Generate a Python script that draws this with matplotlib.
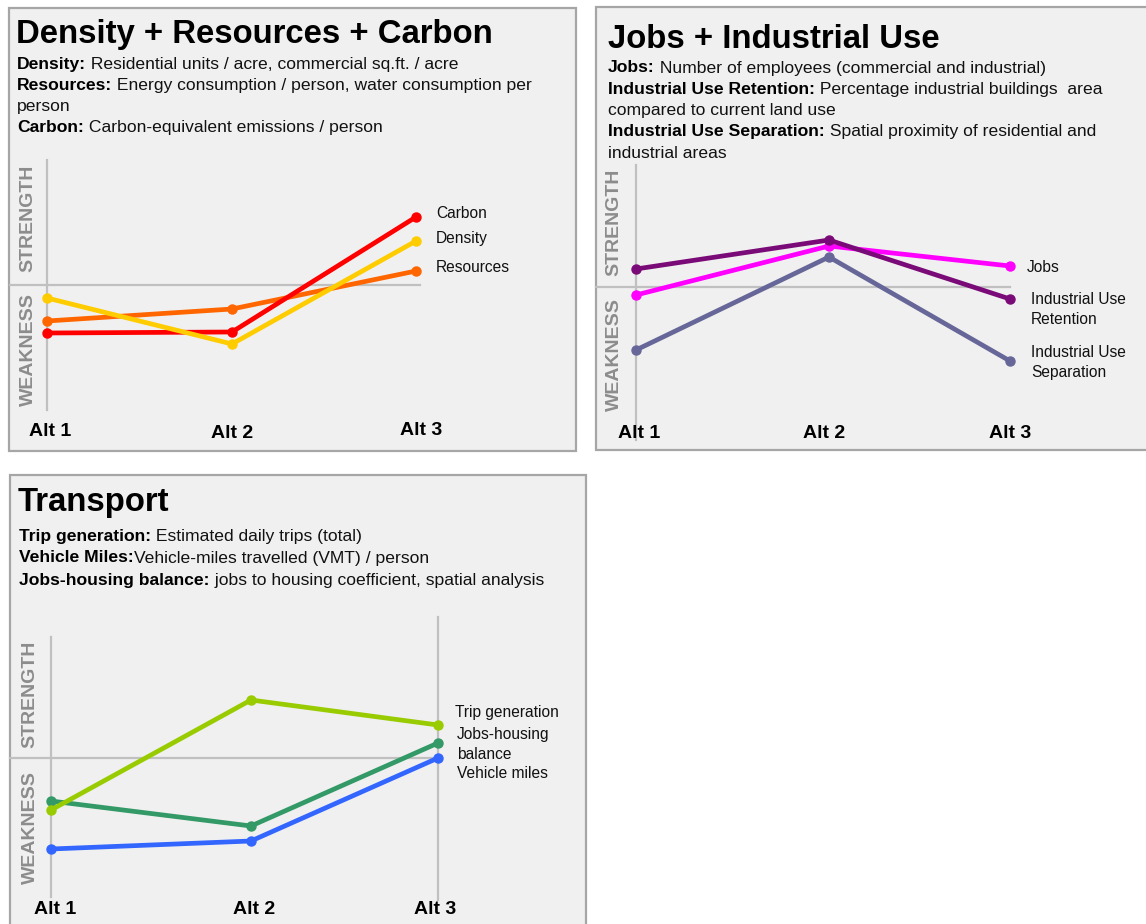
import matplotlib
matplotlib.use("Agg")
import matplotlib.pyplot as plt
from matplotlib.patches import Rectangle

plt.rcParams['font.family'] = ['Liberation Sans', 'DejaVu Sans']

# ---------------- data ----------------
alts = ["Alt 1", "Alt 2", "Alt 3"]

p1_title = "Density + Resources + Carbon"
p1_desc = [("Density:", " Residential units / acre, commercial sq.ft. / acre"),
           ("Resources:", " Energy consumption / person, water consumption per"),
           ("", "person"),
           ("Carbon:", " Carbon-equivalent emissions / person")]
p1_names = ["Resources", "Carbon", "Density"]
p1_values = [[-0.36, -0.24, 0.14],
             [-0.48, -0.47, 0.68],
             [-0.13, -0.59, 0.44]]
p1_colors = ["#ff6600", "#ff0000", "#ffcc00"]

p2_title = "Jobs + Industrial Use"
p2_desc = [("Jobs:", " Number of employees (commercial and industrial)"),
           ("Industrial Use Retention:", " Percentage industrial buildings  area"),
           ("", "compared to current land use"),
           ("Industrial Use Separation:", " Spatial proximity of residential and"),
           ("", "industrial areas")]
p2_names = ["Industrial Use\nSeparation", "Jobs", "Industrial Use\nRetention"]
p2_values = [[-0.63, 0.30, -0.74],
             [-0.08, 0.41, 0.21],
             [0.18, 0.47, -0.12]]
p2_colors = ["#666699", "#ff00ff", "#7a0a78"]

p3_title = "Transport"
p3_desc = [("Trip generation:", " Estimated daily trips (total)"),
           ("Vehicle Miles:", "Vehicle-miles travelled (VMT) / person"),
           ("Jobs-housing balance:", " jobs to housing coefficient, spatial analysis")]
p3_names = ["Vehicle miles", "Jobs-housing\nbalance", "Trip generation"]
p3_values = [[-0.91, -0.83, 0.00],
             [-0.43, -0.68, 0.15],
             [-0.52, 0.58, 0.33]]
p3_colors = ["#3366ff", "#339966", "#99cc00"]

# ---------------- layout helpers ----------------
W, H = 1146, 924
fig = plt.figure(figsize=(W / 100, H / 100), dpi=100)
fig.patch.set_facecolor("white")
renderer = fig.canvas.get_renderer()

def fx(x):
    return x / W

def fy(y):
    return 1 - y / H

def panel_box(x0, y0, x1, y1):
    fig.patches.append(Rectangle((fx(x0), fy(y1)), fx(x1) - fx(x0), fy(y0) - fy(y1),
                                 transform=fig.transFigure, facecolor="#f0f0f0",
                                 edgecolor="#a6a6a6", linewidth=1.6, zorder=-5))

def rich_lines(x, y, lines, size=12.6, step=21.3):
    for i, (b, r) in enumerate(lines):
        yy = fy(y + i * step)
        xx = fx(x)
        if b:
            t = fig.text(xx, yy, b, fontsize=size, fontweight="bold", va="center", ha="left")
            bb = t.get_window_extent(renderer)
            xx = fx(x + bb.width)
        fig.text(xx, yy, r, fontsize=size, va="center", ha="left", color="#111111")

def chart(rect, xpx, zero_px, names, values, colors, label_offsets, vlines_top, vlines_bot,
          hline_x, strength_y, weakness_y, slabel_x, alt_y, alt_dx, extra_vline=None):
    # rect: (left, top, right, bottom) in pixels; xpx: pixel positions of the categories
    L, T, R, B = rect
    ax = fig.add_axes([fx(L), fy(B), fx(R) - fx(L), fy(T) - fy(B)], zorder=2)
    ax.set_axis_off()
    scale = 100.0
    ax.set_xlim(L, R)
    ax.set_ylim((zero_px - B) / scale, (zero_px - T) / scale)
    def dy(p):
        return (zero_px - p) / scale
    # reference lines
    ax.plot([hline_x[0], hline_x[1]], [0, 0], color="#c0c0c0", lw=1.6, zorder=1,
            clip_on=False)
    ax.plot([xpx[0], xpx[0]], [dy(vlines_top), dy(vlines_bot)], color="#c0c0c0", lw=1.6,
            zorder=1, clip_on=False)
    if extra_vline is not None:
        ax.plot([xpx[-1], xpx[-1]], [dy(extra_vline[0]), dy(extra_vline[1])], color="#c0c0c0",
                lw=1.6, zorder=1, clip_on=False)
    for n, v, c, off in zip(names, values, colors, label_offsets):
        ax.plot(xpx, v, color=c, lw=3.4, marker="o", markersize=6.5, zorder=3,
                solid_capstyle="round", clip_on=False)
        ax.annotate(n, (xpx[-1], v[-1]), xytext=off, textcoords="offset pixels",
                    fontsize=11.2, va="top" if "\n" in n else "center", ha="left",
                    color="#111111", linespacing=1.45, annotation_clip=False)
    # STRENGTH / WEAKNESS
    fig.text(fx(slabel_x), fy(strength_y), "STRENGTH", rotation=90, fontsize=14,
             fontweight="bold", color="#8c8c8c", ha="center", va="center")
    fig.text(fx(slabel_x), fy(weakness_y), "WEAKNESS", rotation=90, fontsize=14,
             fontweight="bold", color="#8c8c8c", ha="center", va="center")
    for i, a in enumerate(alts):
        fig.text(fx(xpx[i] + alt_dx[i]), fy(alt_y[i]), a, fontsize=14, fontweight="bold",
                 ha="center", va="center", color="black")
    return ax

# ---------------- panel 1 ----------------
panel_box(9, 8, 576, 451)
fig.text(fx(16), fy(35), p1_title, fontsize=23.7, fontweight="bold", va="center", ha="left")
rich_lines(17, 64, p1_desc)
chart((10, 160, 420, 417), [47, 232, 416], 285, p1_names, p1_values, p1_colors,
      [(20, 3), (20, 3), (20, 3)], 160, 410, (10, 420), 218, 350, 28,
      [432, 434, 430], [3, 0, 5])

# ---------------- panel 2 ----------------
panel_box(596, 7, 1150, 450)
fig.text(fx(608), fy(39), p2_title, fontsize=23.7, fontweight="bold", va="center", ha="left")
rich_lines(608, 68, p2_desc)
chart((596, 165, 1012, 440), [636, 829, 1010], 287, p2_names, p2_values, p2_colors,
      [(21, 16), (17, -2), (21, 7)], 165, 440, (596, 1010), 222, 355, 614,
      [434, 434, 434], [3, -5, 0])

# ---------------- panel 3 ----------------
panel_box(10, 475, 586, 930)
fig.text(fx(18), fy(502), p3_title, fontsize=23.7, fontweight="bold", va="center", ha="left")
rich_lines(19, 536, p3_desc, step=22)
chart((10, 617, 440, 900), [51, 251, 438], 758, p3_names, p3_values, p3_colors,
      [(19, -16), (19, 16), (17, 12)], 637, 897, (10, 438), 694, 828, 30,
      [909, 909, 909], [4, 3, -3], extra_vline=(617, 900))

fig.savefig("out.png", dpi=100)
